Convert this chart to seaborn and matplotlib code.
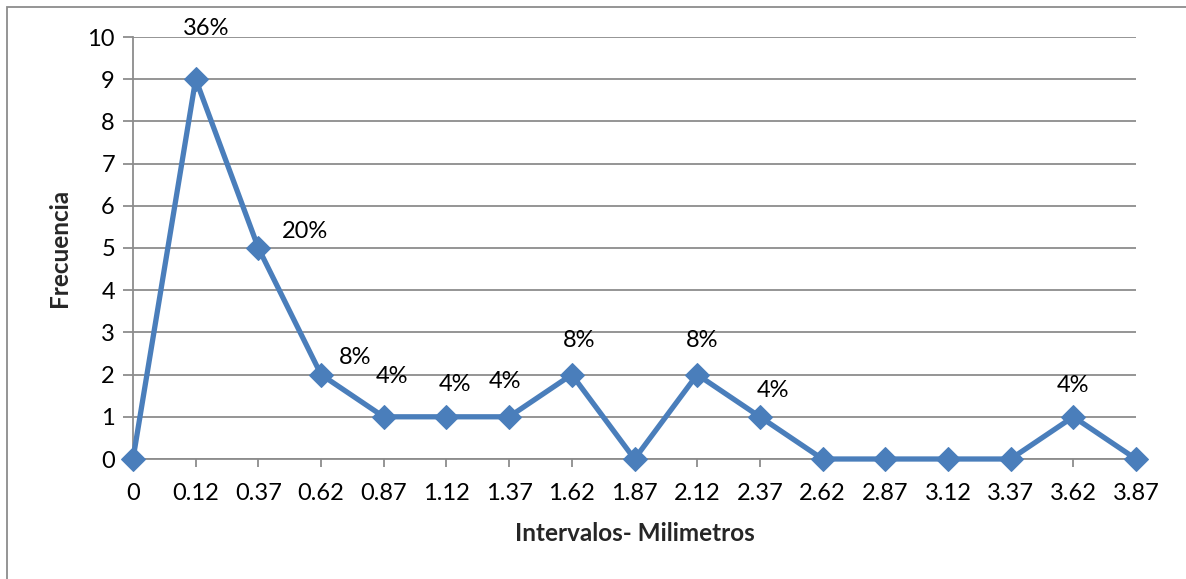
import matplotlib
matplotlib.use("Agg")
import matplotlib.pyplot as plt
import seaborn as sns
import pandas as pd
from matplotlib.patches import Rectangle

categories = ["0", "0.12", "0.37", "0.62", "0.87", "1.12", "1.37", "1.62", "1.87",
              "2.12", "2.37", "2.62", "2.87", "3.12", "3.37", "3.62", "3.87"]
frecuencia = [0, 9, 5, 2, 1, 1, 1, 2, 0, 2, 1, 0, 0, 0, 0, 1, 0]
porcentajes = ["", "36%", "20%", "8%", "4%", "4%", "4%", "8%", "", "8%", "4%",
               "", "", "", "", "4%", ""]
y_ticks = list(range(0, 11))

# label offsets in pixels (layout only)
label_offsets = [(0, 0), (10, 51), (47, 16), (34, 17), (8, 40), (9, 32), (-4, 35),
                 (7, 34), (0, 0), (5, 34), (13, 26), (0, 0), (0, 0), (0, 0), (0, 0),
                 (0, 31), (0, 0)]

sns.set_theme(style="white")
plt.rcParams["font.family"] = ["Lato", "DejaVu Sans"]

W, H = 1186, 579
fig = plt.figure(figsize=(W / 100, H / 100), dpi=100)
ax = fig.add_axes([133 / W, 1 - 459 / H, (1136 - 133) / W, (459 - 37) / H])

df = pd.DataFrame({"x": range(len(categories)), "y": frecuencia})
blue = "#4A7EBB"
sns.lineplot(data=df, x="x", y="y", ax=ax, color=blue, linewidth=3.8,
             marker="D", markersize=12, markeredgecolor=blue, clip_on=False, zorder=5)

ax.set_xlim(0, len(categories) - 1)
ax.set_ylim(0, 10)
ax.set_yticks(y_ticks)
ax.set_yticklabels([str(t) for t in y_ticks], fontsize=17)
ax.set_xticks(range(len(categories)))
ax.set_xticklabels(categories, fontsize=17)
ax.grid(axis="y", color="#8c8c8c", linewidth=1.3)
ax.set_axisbelow(True)
for s in ["top", "right"]:
    ax.spines[s].set_visible(False)
for s in ["left", "bottom"]:
    ax.spines[s].set_color("#8c8c8c")
    ax.spines[s].set_linewidth(1.3)
ax.tick_params(axis="y", which="both", left=True, length=7, width=1.3, color="#8c8c8c",
               pad=6, labelcolor="black")
ax.tick_params(axis="x", which="both", bottom=True, length=6, width=1.3, color="#8c8c8c",
               pad=11, labelcolor="black")

ax.set_xlabel("Intervalos- Milimetros", fontsize=17.5, fontweight="bold", labelpad=13)
ax.set_ylabel("Frecuencia", fontsize=17.5, fontweight="bold", labelpad=12)

for i, (lab, v) in enumerate(zip(porcentajes, frecuencia)):
    if lab:
        dx, dy = label_offsets[i]
        ax.annotate(lab, (i, v), xytext=(dx * 0.72, dy * 0.72), textcoords="offset points",
                    ha="center", va="center", fontsize=17, color="black", zorder=6)

fig.patches.append(Rectangle((7 / W, -0.1), 1.2, 1 - 7 / H + 0.1, transform=fig.transFigure,
                             fill=False, edgecolor="#8c8c8c", linewidth=1.3))

fig.savefig("out.png", dpi=100)
